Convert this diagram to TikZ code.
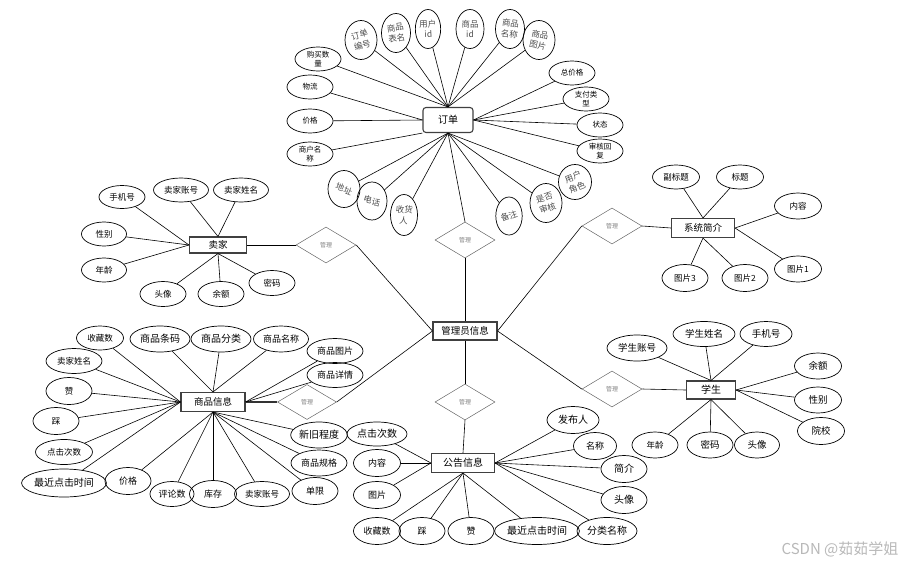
\documentclass[tikz,border=0pt]{standalone}
\usepackage{fontspec}
\setmainfont{Noto Sans CJK SC}
\usetikzlibrary{shapes.geometric}
\tikzset{
  attr/.style={draw, line width=0.7pt, ellipse, inner sep=0pt, align=center,
    minimum width=46, minimum height=24, font=\fontsize{9}{10}\selectfont},
  tilt/.style={attr, minimum width=31, minimum height=39, text=black!70,
    font=\fontsize{8.5}{10}\selectfont},
  entity/.style={draw=black!75, line width=1.1pt, inner sep=0pt,
    font=\fontsize{9.5}{11}\selectfont},
  rel/.style={draw=black!60, line width=0.5pt, diamond, inner sep=0pt,
    minimum width=60, minimum height=36, text=black!50,
    font=\fontsize{6}{7}\selectfont},
  link/.style={line width=0.6pt}
}
\newcommand{\tl}[2]{\rotatebox{#1}{\shortstack{#2}}}

\begin{document}
\begin{tikzpicture}[x=1pt,y=-1pt]
			\useasboundingbox (0,0) rectangle (915,565);
			
			%%%%% ENTITIES %%%%%
			
			\node[entity, minimum width=64, minimum height=18] (admin) at (465,331) {管理员信息};
			\node[entity, rounded corners=3, minimum width=50, minimum height=25, font=\fontsize{10}{11}\selectfont] (ord) at (448,120) {订单};
			\node[entity, minimum width=57, minimum height=16] (sel) at (218,245) {卖家};
			\node[entity, minimum width=63, minimum height=19] (sys) at (703,228) {系统简介};
			\node[entity, minimum width=49, minimum height=18, font=\fontsize{10}{11}\selectfont] (stu) at (711,390) {学生};
			\node[entity, minimum width=64, minimum height=19] (gds) at (213,402) {商品信息};
			\node[entity, minimum width=63, minimum height=19, font=\fontsize{10}{11}\selectfont] (ntc) at (463,463) {公告信息};
			
			\node[rel] (relOrd) at (465,240) {管理};
			\node[rel] (relSel) at (326,245) {管理};
			\node[rel] (relSys) at (612,226) {管理};
			\node[rel] (relStu) at (612,389) {管理};
			\node[rel, minimum width=59, minimum height=35] (relGds) at (307,402) {管理};
			\node[rel] (relNtc) at (465,402) {管理};
			
			\draw[link] (ord.south) -- (relOrd.north);
			\draw[link] (relOrd.south) -- (admin.north);
			\draw[link] (sel.east) -- (relSel.west);
			\draw[link] (relSel.east) -- (admin.west);
			\draw[link] (relSys.east) -- (sys.west);
			\draw[link] (relSys.west) -- (admin.east);
			\draw[link] (relStu.east) -- (stu.west);
			\draw[link] (relStu.west) -- (admin.east);
			\draw[line width=1.6pt, black!80] (gds.east) -- (relGds.west);
			\draw[link] (relGds.east) -- (admin.west);
			\draw[link] (admin.south) -- (relNtc.north);
			\draw[link] (relNtc.south) -- (ntc.north);
			
			%%%%% 订单 %%%%%
			
			\node[attr, font=\fontsize{7.5}{9}\selectfont] (oBuy) at (318,59) {购买数\\量};
			\node[attr, font=\fontsize{7.5}{9}\selectfont] (oLog) at (310,87) {物流};
			\node[attr, font=\fontsize{7.5}{9}\selectfont] (oPri) at (310,121) {价格};
			\node[attr, font=\fontsize{7.5}{9}\selectfont] (oMer) at (310,154) {商户名\\称};
			\node[attr, font=\fontsize{7.5}{9}\selectfont] (oTot) at (572,73) {总价格};
			\node[attr, font=\fontsize{7.5}{9}\selectfont] (oPay) at (586,99) {支付类\\型};
			\node[attr, font=\fontsize{7.5}{9}\selectfont] (oSta) at (600,125) {状态};
			\node[attr, font=\fontsize{7.5}{9}\selectfont] (oRev) at (600,151) {审核回\\复};
			
			\node[tilt, minimum width=32] (oNo) at (361,40) {\tl{15}{订单\\编号}};
			\node[tilt, minimum width=29] (oTab) at (396,33) {\tl{8}{商品\\表名}};
			\node[tilt, minimum width=25] (oUid) at (428,29) {\tl{3}{用户\\id}};
			\node[tilt, minimum width=28] (oGid) at (470,29) {\tl{0}{商品\\id}};
			\node[tilt, minimum width=29] (oGnm) at (510,29) {\tl{-6}{商品\\名称}};
			\node[tilt, minimum width=32] (oImg) at (539,40) {\tl{-12}{商品\\图片}};
			\node[tilt, minimum width=32, minimum height=37] (oAdr) at (344,189) {\tl{-22}{地址}};
			\node[tilt, minimum width=30, minimum height=38] (oTel) at (372,201) {\tl{-15}{电话}};
			\node[tilt, minimum width=27, minimum height=41] (oRcv) at (404,215) {\tl{-5}{收货\\人}};
			\node[tilt, minimum width=25, minimum height=38] (oNote) at (509,216) {\tl{20}{备注}};
			\node[tilt, minimum width=32, minimum height=39] (oChk) at (546,203) {\tl{18}{是否\\审核}};
			\node[tilt, minimum width=33, minimum height=35] (oRole) at (575,182) {\tl{22}{用户\\角色}};
			
			\draw[link] (ord.north) -- (oBuy);
			\draw[link] (ord.west) -- (oLog);
			\draw[link] (ord.west) -- (oPri);
			\draw[link] (ord.south west) -- (oMer);
			\draw[link] (ord.east) -- (oTot);
			\draw[link] (ord.east) -- (oPay);
			\draw[link] (ord.east) -- (oSta);
			\draw[link] (ord.east) -- (oRev);
			\draw[link] (ord.north) -- (oNo);
			\draw[link] (ord.north) -- (oTab);
			\draw[link] (ord.north) -- (oUid);
			\draw[link] (ord.north) -- (oGid);
			\draw[link] (ord.north) -- (oGnm);
			\draw[link] (ord.north) -- (oImg);
			\draw[link] (ord.south) -- (oAdr);
			\draw[link] (ord.south) -- (oTel);
			\draw[link] (ord.south) -- (oRcv);
			\draw[link] (ord.south) -- (oNote);
			\draw[link] (ord.south) -- (oChk);
			\draw[link] (ord.south) -- (oRole);
			
			%%%%% 卖家 %%%%%
			
			\node[attr, minimum height=23, font=\fontsize{8.5}{10}\selectfont] (lTel) at (122,197) {手机号};
			\node[attr, minimum width=55, font=\fontsize{8.5}{10}\selectfont] (lAcc) at (181,190) {卖家账号};
			\node[attr, minimum width=55, font=\fontsize{8.5}{10}\selectfont] (lName) at (241,190) {卖家姓名};
			\node[attr, minimum width=45, font=\fontsize{8.5}{10}\selectfont] (lSex) at (104,234) {性别};
			\node[attr, minimum width=45, font=\fontsize{8.5}{10}\selectfont] (lAge) at (104,270) {年龄};
			\node[attr, minimum height=25, font=\fontsize{8.5}{10}\selectfont] (lAva) at (163,294) {头像};
			\node[attr, minimum height=25, font=\fontsize{8.5}{10}\selectfont] (lBal) at (221,294) {余额};
			\node[attr, minimum height=25, font=\fontsize{8.5}{10}\selectfont] (lPwd) at (272,283) {密码};
			
			\draw[link] (sel.west) -- (lTel);
			\draw[link] (sel.north) -- (lAcc);
			\draw[link] (sel.north) -- (lName);
			\draw[link] (sel.west) -- (lSex);
			\draw[link] (sel.west) -- (lAge);
			\draw[link] (sel.south) -- (lAva);
			\draw[link] (sel.south) -- (lBal);
			\draw[link] (sel.south) -- (lPwd);
			
			%%%%% 系统简介 %%%%%
			
			\node[attr, minimum width=47, font=\fontsize{8.5}{10}\selectfont] (yRef) at (676,177) {副标题};
			\node[attr, minimum width=47, font=\fontsize{8.5}{10}\selectfont] (yTit) at (740,177) {标题};
			\node[attr, minimum width=47, minimum height=26, font=\fontsize{8.5}{10}\selectfont] (yCnt) at (798,206) {内容};
			\node[attr, minimum width=47, minimum height=26, font=\fontsize{8.5}{10}\selectfont] (yP1) at (798,269) {图片1};
			\node[attr, minimum width=46, minimum height=27, font=\fontsize{8.5}{10}\selectfont] (yP2) at (745,278) {图片2};
			\node[attr, minimum width=46, minimum height=27, font=\fontsize{8.5}{10}\selectfont] (yP3) at (685,278) {图片3};
			
			\draw[link] (sys.north) -- (yRef);
			\draw[link] (sys.north) -- (yTit);
			\draw[link] (sys.east) -- (yCnt);
			\draw[link] (sys.east) -- (yP1);
			\draw[link] (sys.south) -- (yP2);
			\draw[link] (sys.south) -- (yP3);
			
			%%%%% 学生 %%%%%
			
			\node[attr, minimum width=60, minimum height=26, font=\fontsize{9.5}{11}\selectfont] (sAcc) at (637,348) {学生账号};
			\node[attr, minimum width=62, minimum height=25, font=\fontsize{9.5}{11}\selectfont] (sName) at (704,334) {学生姓名};
			\node[attr, minimum width=52, minimum height=25, font=\fontsize{9.5}{11}\selectfont] (sTel) at (766,334) {手机号};
			\node[attr, minimum width=47, minimum height=26, font=\fontsize{9.5}{11}\selectfont] (sBal) at (818,366) {余额};
			\node[attr, minimum width=47, minimum height=26, font=\fontsize{9.5}{11}\selectfont] (sSex) at (818,400) {性别};
			\node[attr, minimum width=47, minimum height=27, font=\fontsize{9.5}{11}\selectfont] (sSch) at (821,431) {院校};
			\node[attr, minimum width=46, minimum height=26, font=\fontsize{8.5}{10}\selectfont] (sAge) at (655,445) {年龄};
			\node[attr, minimum width=46, minimum height=26, font=\fontsize{9.5}{11}\selectfont] (sPwd) at (710,445) {密码};
			\node[attr, minimum width=45, minimum height=26, font=\fontsize{9.5}{11}\selectfont] (sAva) at (757,445) {头像};
			
			\draw[link] (stu.north) -- (sAcc);
			\draw[link] (stu.north) -- (sName);
			\draw[link] (stu.north) -- (sTel);
			\draw[link] (stu.east) -- (sBal);
			\draw[link] (stu.east) -- (sSex);
			\draw[link] (stu.east) -- (sSch);
			\draw[link] (stu.south) -- (sAge);
			\draw[link] (stu.south) -- (sPwd);
			\draw[link] (stu.south) -- (sAva);
			
			%%%%% 商品信息 %%%%%
			
			\node[attr, minimum width=47, font=\fontsize{8.5}{10}\selectfont] (gFav) at (100,338) {收藏数};
			\node[attr, minimum width=60, minimum height=26, font=\fontsize{10}{11}\selectfont] (gCode) at (160,339) {商品条码};
			\node[attr, minimum width=60, minimum height=26, font=\fontsize{10}{11}\selectfont] (gCat) at (221,339) {商品分类};
			\node[attr, minimum width=55, minimum height=26] (gName) at (281,339) {商品名称};
			\node[attr, minimum width=56, minimum height=25] (gImg) at (335,351) {商品图片};
			\node[attr, minimum width=56, minimum height=25] (gDet) at (335,375) {商品详情};
			\node[attr, minimum width=56, minimum height=25, font=\fontsize{8.5}{10}\selectfont] (gSel) at (74,361) {卖家姓名};
			\node[attr, minimum height=27, font=\fontsize{8.5}{10}\selectfont] (gUp) at (69,391) {赞};
			\node[attr, minimum height=27, font=\fontsize{8.5}{10}\selectfont] (gDn) at (56,421) {踩};
			\node[attr, minimum width=57, minimum height=25, font=\fontsize{8.5}{10}\selectfont] (gClk) at (64,452) {点击次数};
			\node[attr, minimum width=82, minimum height=28, font=\fontsize{10}{11}\selectfont] (gLast) at (64,483) {最近点击时间};
			\node[attr, minimum height=27] (gPri) at (128,481) {价格};
			\node[attr, minimum width=44, minimum height=25] (gCmt) at (172,494) {评论数};
			\node[attr, minimum width=47, minimum height=27] (gStk) at (213,494) {库存};
			\node[attr, minimum width=55, minimum height=25, font=\fontsize{8.5}{10}\selectfont] (gAcc) at (262,494) {卖家账号};
			\node[attr, minimum height=27] (gLim) at (315,491) {单限};
			\node[attr, minimum width=56, minimum height=26] (gSpec) at (319,463) {商品规格};
			\node[attr, minimum width=56, minimum height=26, font=\fontsize{10}{11}\selectfont] (gOld) at (319,435) {新旧程度};
			
			\draw[link] (gds.west) -- (gFav);
			\draw[link] (gds.north) -- (gCode);
			\draw[link] (gds.north) -- (gCat);
			\draw[link] (gds.north) -- (gName);
			\draw[link] (gds.east) -- (gImg);
			\draw[link] (gds.east) -- (gDet);
			\draw[link] (gds.west) -- (gSel);
			\draw[link] (gds.west) -- (gUp);
			\draw[link] (gds.west) -- (gDn);
			\draw[link] (gds.west) -- (gClk);
			\draw[link] (gds.west) -- (gLast);
			\draw[link] (gds.south) -- (gPri);
			\draw[link] (gds.south) -- (gCmt);
			\draw[link] (gds.south) -- (gStk);
			\draw[link] (gds.south) -- (gAcc);
			\draw[link] (gds.south) -- (gLim);
			\draw[link] (gds.south) -- (gSpec);
			\draw[link] (gds.south) -- (gOld);
			
			%%%%% 公告信息 %%%%%
			
			\node[attr, minimum width=60, minimum height=24, font=\fontsize{10}{11}\selectfont] (nClk) at (377,434) {点击次数};
			\node[attr, minimum width=47, minimum height=27] (nCnt) at (377,463) {内容};
			\node[attr, minimum width=47, minimum height=27] (nImg) at (377,495) {图片};
			\node[attr, minimum width=47, minimum height=27] (nFav) at (377,531) {收藏数};
			\node[attr, minimum height=27] (nDn) at (422,531) {踩};
			\node[attr, minimum height=27] (nUp) at (471,531) {赞};
			\node[attr, minimum width=80, minimum height=27, font=\fontsize{10}{11}\selectfont] (nLast) at (537,531) {最近点击时间};
			\node[attr, minimum width=60, minimum height=27, font=\fontsize{10}{11}\selectfont] (nCat) at (607,531) {分类名称};
			\node[attr, minimum height=27, font=\fontsize{10}{11}\selectfont] (nAva) at (624,500) {头像};
			\node[attr, minimum height=27, font=\fontsize{10}{11}\selectfont] (nIntro) at (624,469) {简介};
			\node[attr, minimum width=43, minimum height=27] (nName) at (595,446) {名称};
			\node[attr, minimum width=52, minimum height=27, font=\fontsize{10}{11}\selectfont] (nPub) at (573,420) {发布人};
			
			\draw[link] (ntc.west) -- (nClk);
			\draw[link] (ntc.west) -- (nCnt);
			\draw[link] (ntc.west) -- (nImg);
			\draw[link] (ntc.south) -- (nFav);
			\draw[link] (ntc.south) -- (nDn);
			\draw[link] (ntc.south) -- (nUp);
			\draw[link] (ntc.south) -- (nLast);
			\draw[link] (ntc.east) -- (nCat);
			\draw[link] (ntc.east) -- (nAva);
			\draw[link] (ntc.east) -- (nIntro);
			\draw[link] (ntc.east) -- (nName);
			\draw[link] (ntc.east) -- (nPub);
			
			\node[text=black!28, font=\fontsize{15}{16}\selectfont] (mark) at (840,549) {CSDN @茹茹学姐};
			
			%%%%% END %%%%%
		\end{tikzpicture}
\end{document}
